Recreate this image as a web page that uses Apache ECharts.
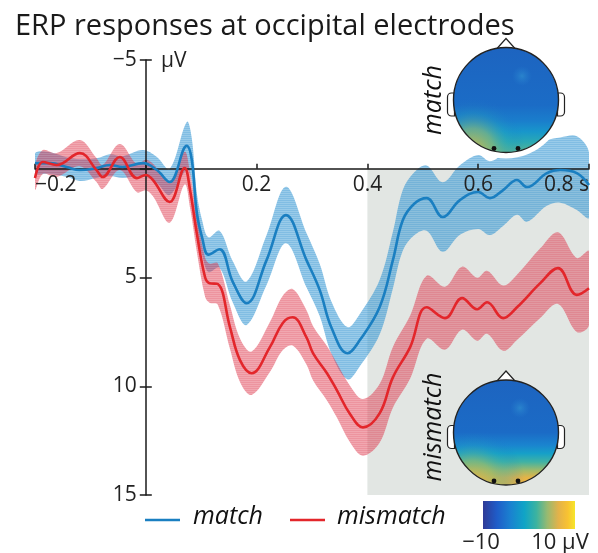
<!DOCTYPE html>
<html><head><meta charset="utf-8">
<script src="https://cdn.jsdelivr.net/npm/echarts@6/dist/echarts.min.js"></script>
<style>html,body{margin:0;padding:0;background:#fff}#c{width:598px;height:553px}</style>
</head><body><div id="c"></div>
<script>
// ---- data ----
const seriesNames = ['match', 'mismatch'];
const blueT = [-0.2,-0.173,-0.143,-0.119,-0.089,-0.065,-0.042,-0.005,0.02,0.043,0.074,0.083,0.092,0.102,0.113,0.133,0.157,0.182,0.218,0.253,0.29,0.314,0.335,0.364,0.386,0.422,0.446,0.464,0.485,0.507,0.536,0.567,0.6,0.621,0.645,0.67,0.688,0.724,0.748,0.778,0.8];
const blueV = [-0.26,-0.26,-0.08,0.06,-0.03,-0.17,-0.08,-0.26,0.06,0.61,-1.05,-0.4,2.0,3.2,3.95,3.7,5.2,6.18,4.2,2.13,4.2,5.58,7.3,8.48,7.89,6.37,4.2,2.36,1.6,1.35,2.22,1.44,1.07,1.35,0.98,0.52,0.84,0.2,0.06,0.2,0.75];
const blueErr = [0.45,0.5,0.45,0.5,0.45,0.5,0.5,0.6,0.6,0.6,1.1,1.0,0.9,0.8,0.8,0.85,0.95,1.0,1.15,1.3,1.25,1.2,1.2,1.2,1.2,1.25,1.3,1.4,1.45,1.5,1.6,1.6,1.7,1.7,1.65,1.6,1.6,1.5,1.5,1.7,1.5];
const redT = [-0.2,-0.186,-0.161,-0.119,-0.089,-0.078,-0.047,-0.016,0.0,0.013,0.043,0.07,0.08,0.092,0.107,0.115,0.13,0.152,0.17,0.191,0.224,0.247,0.265,0.29,0.302,0.327,0.345,0.368,0.392,0.422,0.446,0.477,0.507,0.54,0.571,0.598,0.616,0.645,0.67,0.712,0.744,0.778,0.8];
const redV = [0.43,-0.31,-0.17,-0.72,0.06,0.38,-0.54,0.43,0.29,0.52,1.53,-0.03,1.0,2.96,4.99,5.26,5.3,7.29,8.8,9.4,8.2,7.1,6.83,7.75,8.49,9.4,10.19,11.25,11.89,11.25,9.59,8.21,6.37,6.87,5.95,6.46,6.14,6.87,6.37,5.26,4.57,5.8,5.49];
const redErr = [0.55,0.55,0.55,0.6,0.55,0.55,0.6,0.65,0.7,0.75,0.95,0.75,0.8,0.85,0.9,0.9,0.95,1.0,1.0,1.0,1.15,1.25,1.3,1.25,1.25,1.25,1.25,1.3,1.3,1.35,1.4,1.45,1.45,1.45,1.45,1.45,1.45,1.5,1.5,1.6,1.65,1.7,1.7];
const shadeX = [0.4, 0.8];
const shadeY = [0, 15];
const xTickLabels = ['\u22120.2', '', '0.2', '0.4', '0.6', '0.8 s'];
const yTickLabels = ['\u22125', '', '5', '10', '15'];
const cbLabels = ['\u221210', '10 \u03bcV'];
const unitLabel = '\u03bcV';
const titleText = 'ERP responses at occipital electrodes';

// ---- layout ----
const W = 598, H = 553;
const GRID = {left: 35, right: 9, top: 60, bottom: 58};
const X_MIN = -0.2, X_MAX = 0.8, Y_MIN = -5, Y_MAX = 15;
const plotW = W - GRID.left - GRID.right, plotH = H - GRID.top - GRID.bottom;
const zeroYFromBottom = plotH * (Y_MAX - 0) / (Y_MAX - Y_MIN);   // inverse y axis
const zeroXFromLeft = plotW * (0 - X_MIN) / (X_MAX - X_MIN);

const FONT = '"Open Sans", "Noto Sans", sans-serif';
const chart = echarts.init(document.getElementById('c'), null, {renderer: 'canvas'});
const zip = (a, b) => a.map((v, i) => [v, b[i]]);

// fine hatched fill (faint horizontal lines, like the original's rendering)
function hatch(base, line) {
  const c = document.createElement('canvas');
  c.width = 4; c.height = 2;
  const g = c.getContext('2d');
  g.fillStyle = base; g.fillRect(0, 1, 4, 1);
  g.fillStyle = line; g.fillRect(0, 0, 4, 1);
  return {image: c, repeat: 'repeat'};
}

function bandSeries(T, V, E, fill, z) {
  return {
    type: 'custom', z: z, silent: true, clip: true,
    data: [[T[0], V[0]]],
    renderItem: function (params, api) {
      const pts = [];
      for (let i = 0; i < T.length; i++) pts.push(api.coord([T[i], V[i] - E[i]]));
      for (let i = T.length - 1; i >= 0; i--) pts.push(api.coord([T[i], V[i] + E[i]]));
      return {type: 'polygon', shape: {points: pts, smooth: 0.35}, style: {fill: fill}};
    }
  };
}

const parula = [
  {offset: 0, color: '#2f3a96'}, {offset: 0.15, color: '#1f5cc8'}, {offset: 0.3, color: '#1a82d0'},
  {offset: 0.45, color: '#10a4c6'}, {offset: 0.58, color: '#3cb3a0'}, {offset: 0.7, color: '#98ba70'},
  {offset: 0.82, color: '#e3b24a'}, {offset: 0.92, color: '#f8c232'}, {offset: 1, color: '#f6e62a'}
];

function head(cx, cy, r, halo, mainStops, spot, warm) {
  const els = [];
  if (halo) els.push({type: 'circle', z: 20, shape: {cx: cx, cy: cy, r: r + 6}, style: {fill: '#fff'}});
  const earW = 7, earH = 23;
  els.push({type: 'rect', z: 21, shape: {x: cx - r - earW + 1, y: cy - 7, width: earW, height: earH, r: [4, 0, 0, 4]}, style: {fill: '#fff', stroke: '#222', lineWidth: 1.2}});
  els.push({type: 'rect', z: 21, shape: {x: cx + r - 1, y: cy - 7, width: earW, height: earH, r: [0, 4, 4, 0]}, style: {fill: '#fff', stroke: '#222', lineWidth: 1.2}});
  els.push({type: 'polygon', z: 21, shape: {points: [[cx - 9, cy - r + 1], [cx, cy - r - 9], [cx + 9, cy - r + 1]]}, style: {fill: '#fff', stroke: '#222', lineWidth: 1.2}});
  els.push({type: 'circle', z: 22, shape: {cx: cx, cy: cy, r: r}, style: {fill: new echarts.graphic.LinearGradient(0, 0, 0, 1, mainStops)}});
  els.push({type: 'circle', z: 23, shape: {cx: cx, cy: cy, r: r}, style: {fill: new echarts.graphic.RadialGradient(0.18, 0.97, 0.5, [
    {offset: 0, color: warm}, {offset: 0.4, color: 'rgba(150,186,110,0.6)'},
    {offset: 0.7, color: 'rgba(40,165,185,0.25)'}, {offset: 1, color: 'rgba(30,110,200,0)'}])}});
  els.push({type: 'circle', z: 24, shape: {cx: spot[0], cy: spot[1], r: 10}, style: {fill: new echarts.graphic.RadialGradient(0.5, 0.5, 0.5, [
    {offset: 0, color: 'rgba(50,150,210,0.6)'}, {offset: 1, color: 'rgba(40,130,210,0)'}])}});
  els.push({type: 'circle', z: 25, shape: {cx: cx, cy: cy, r: r}, style: {fill: 'none', stroke: '#222', lineWidth: 1.4}});
  els.push({type: 'circle', z: 26, shape: {cx: cx - 12, cy: cy + r - 4, r: 2.4}, style: {fill: '#111'}});
  els.push({type: 'circle', z: 26, shape: {cx: cx + 12, cy: cy + r - 4, r: 2.4}, style: {fill: '#111'}});
  return els;
}

const matchStops = [
  {offset: 0, color: '#1d64c0'}, {offset: 0.55, color: '#1b6cc6'}, {offset: 0.7, color: '#1a7ecc'},
  {offset: 0.8, color: '#1896cb'}, {offset: 0.9, color: '#2aa9b4'}, {offset: 1, color: '#58b392'}];
const mismatchStops = [
  {offset: 0, color: '#1d64c0'}, {offset: 0.5, color: '#1b6bc6'}, {offset: 0.62, color: '#1a84cf'},
  {offset: 0.7, color: '#16a0c8'}, {offset: 0.78, color: '#40b2a4'}, {offset: 0.86, color: '#a0ba6a'},
  {offset: 0.93, color: '#e4b448'}, {offset: 1, color: '#f2b43c'}];

const graphics = [].concat(
  [{type: 'text', z: 30, x: 15, y: 27, style: {text: titleText, font: '29px ' + FONT, fill: '#1a1a1a', verticalAlign: 'middle'}}],
  [{type: 'text', z: 30, x: 161, y: 61, style: {text: unitLabel, font: '21px ' + FONT, fill: '#222', verticalAlign: 'middle'}}],
  head(506, 100, 52.5, true, matchStops, [522, 76], 'rgba(205,182,80,0.95)'),
  head(506, 432.5, 52.5, false, mismatchStops, [520, 408], 'rgba(230,180,70,0.7)'),
  [
    {type: 'text', z: 30, x: 434, y: 100, rotation: Math.PI / 2, style: {text: seriesNames[0], font: 'italic 25px ' + FONT, fill: '#111', align: 'center', verticalAlign: 'middle'}},
    {type: 'text', z: 30, x: 434, y: 427, rotation: Math.PI / 2, style: {text: seriesNames[1], font: 'italic 25px ' + FONT, fill: '#111', align: 'center', verticalAlign: 'middle'}},
    {type: 'line', z: 30, shape: {x1: 145, y1: 520, x2: 180, y2: 520}, style: {stroke: '#1a7fc1', lineWidth: 2.6}},
    {type: 'text', z: 30, x: 193, y: 517, style: {text: seriesNames[0], font: 'italic 25px ' + FONT, fill: '#111', verticalAlign: 'middle'}},
    {type: 'line', z: 30, shape: {x1: 290, y1: 520, x2: 325, y2: 520}, style: {stroke: '#e3262b', lineWidth: 2.6}},
    {type: 'text', z: 30, x: 337, y: 517, style: {text: seriesNames[1], font: 'italic 25px ' + FONT, fill: '#111', verticalAlign: 'middle'}},
    {type: 'rect', z: 30, shape: {x: 483, y: 501, width: 92, height: 28}, style: {fill: new echarts.graphic.LinearGradient(0, 0, 1, 0, parula)}},
    {type: 'text', z: 30, x: 481, y: 543, style: {text: cbLabels[0], font: '22px ' + FONT, fill: '#222', align: 'center', verticalAlign: 'middle'}},
    {type: 'text', z: 30, x: 560, y: 543, style: {text: cbLabels[1], font: '22px ' + FONT, fill: '#222', align: 'center', verticalAlign: 'middle'}}
  ]
);

const axisLineStyle = {color: '#1a1a1a', width: 1.5};
const option = {
  animation: false,
  backgroundColor: '#fff',
  grid: GRID,
  xAxis: {
    type: 'value', min: X_MIN, max: X_MAX, interval: 0.2, z: 2, position: 'bottom', offset: -zeroYFromBottom,
    axisLine: {onZero: false, lineStyle: axisLineStyle},
    axisTick: {inside: true, length: 5, lineStyle: axisLineStyle},
    axisLabel: {formatter: (v, i) => xTickLabels[i], fontFamily: FONT, fontSize: 21, color: '#222', margin: 6,
      alignMinLabel: 'left', alignMaxLabel: 'right'},
    splitLine: {show: false}
  },
  yAxis: [{
    type: 'value', inverse: true, min: Y_MIN, max: Y_MAX, interval: 5, z: 2, position: 'left', offset: -zeroXFromLeft,
    axisLine: {onZero: false, lineStyle: axisLineStyle},
    axisTick: {length: 6, lineStyle: axisLineStyle},
    axisLabel: {formatter: (v, i) => yTickLabels[i], fontFamily: FONT, fontSize: 21, color: '#222', margin: 9},
    splitLine: {show: false}
  }, {
    type: 'value', inverse: true, min: Y_MIN, max: Y_MAX, interval: 5, z: 2, position: 'left', offset: -zeroXFromLeft,
    axisLine: {onZero: false, show: false},
    axisTick: {inside: true, length: 6, lineStyle: axisLineStyle},
    axisLabel: {show: false}, splitLine: {show: false}
  }],
  series: [
    {
      type: 'custom', z: 0, silent: true, data: [[shadeX[0], shadeY[0], shadeX[1], shadeY[1]]],
      renderItem: function (params, api) {
        const p1 = api.coord([api.value(0), api.value(1)]);
        const p2 = api.coord([api.value(2), api.value(3)]);
        return {type: 'rect', shape: {x: p1[0], y: p1[1], width: p2[0] - p1[0], height: p2[1] - p1[1]}, style: {fill: '#e2e6e3'}};
      }
    },
    bandSeries(blueT, blueV, blueErr, hatch('rgba(60,155,212,0.52)', 'rgba(45,145,208,0.6)'), 1),
    bandSeries(redT, redV, redErr, hatch('rgba(225,60,80,0.45)', 'rgba(220,50,70,0.52)'), 1),
    {name: seriesNames[0], type: 'line', z: 3, data: zip(blueT, blueV), smooth: 0.4, showSymbol: false, silent: true,
      lineStyle: {color: '#1a7fc1', width: 2.6}},
    {name: seriesNames[1], type: 'line', z: 3, data: zip(redT, redV), smooth: 0.4, showSymbol: false, silent: true,
      lineStyle: {color: '#e3262b', width: 2.6}}
  ],
  graphic: graphics
};
chart.setOption(option);
</script>
</body></html>
